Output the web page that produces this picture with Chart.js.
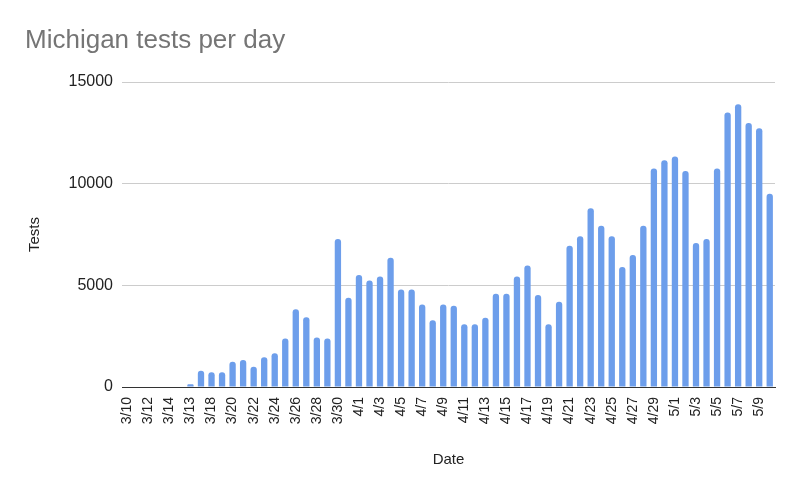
<!DOCTYPE html>
<html>
<head>
<meta charset="utf-8">
<script src="https://cdn.jsdelivr.net/npm/chart.js@4.4.1/dist/chart.umd.min.js"></script>
<style>
  html, body { margin: 0; padding: 0; background: #fff; }
  #wrap { width: 800px; height: 495px; }
</style>
</head>
<body>
<div id="wrap"><canvas id="testsChart" width="800" height="495"></canvas></div>
<script>
// dates as they appear in the sheet (the 7th one really says 3/13)
const dates = [
  "3/10", "3/11", "3/12", "3/13", "3/14", "3/15", "3/13", "3/17", "3/18", "3/19",
  "3/20", "3/21", "3/22", "3/23", "3/24", "3/25", "3/26", "3/27", "3/28", "3/29",
  "3/30", "3/31", "4/1", "4/2", "4/3", "4/4", "4/5", "4/6", "4/7", "4/8",
  "4/9", "4/10", "4/11", "4/12", "4/13", "4/14", "4/15", "4/16", "4/17", "4/18",
  "4/19", "4/20", "4/21", "4/22", "4/23", "4/24", "4/25", "4/26", "4/27", "4/28",
  "4/29", "4/30", "5/1", "5/2", "5/3", "5/4", "5/5", "5/6", "5/7", "5/8",
  "5/9", "5/10"
];

const tests = [
  0, 0, 0, 0, 0, 0, 130, 800, 720, 720,
  1245, 1330, 1000, 1460, 1660, 2380, 3820, 3430, 2440, 2380,
  7280, 4390, 5510, 5240, 5440, 6360, 4790, 4790, 4060, 3280,
  4060, 4000, 3080, 3080, 3410, 4590, 4590, 5440, 5970, 4520,
  3080, 4190, 6950, 7410, 8790, 7930, 7410, 5900, 6490, 7930,
  10750, 11150, 11340, 10620, 7080, 7280, 10750, 13500, 13900, 12980,
  12720, 9500
];

const yTicks = [0, 5000, 10000, 15000];

const barColor = "#6d9eeb";
const fontFamily = "'Liberation Sans', Arial, sans-serif";

const ctx = document.getElementById("testsChart").getContext("2d");
new Chart(ctx, {
  type: "bar",
  data: {
    labels: dates,
    datasets: [{
      label: "Tests",
      data: tests,
      backgroundColor: barColor,
      borderRadius: { topLeft: 3, topRight: 3, bottomLeft: 0, bottomRight: 0 },
      borderSkipped: "start",
      barPercentage: 0.6,
      categoryPercentage: 1
    }]
  },
  options: {
    responsive: false,
    animation: false,
    layout: { padding: { left: 25, right: 25, top: 0, bottom: 26 } },
    plugins: {
      legend: { display: false },
      tooltip: { enabled: false },
      title: {
        display: true,
        text: "Michigan tests per day",
        align: "start",
        color: "#757575",
        font: { family: fontFamily, size: 26, weight: "normal" },
        padding: { top: 25, bottom: 25.8 }
      }
    },
    scales: {
      x: {
        grid: { display: false },
        border: { display: true, color: "#333333", width: 1 },
        ticks: {
          autoSkip: false,
          maxRotation: 90,
          minRotation: 90,
          color: "#222222",
          font: { family: fontFamily, size: 14 },
          padding: 2,
          callback: function (val, i) {
            return i % 2 === 0 ? dates[i] : "";
          }
        },
        title: {
          display: true,
          text: "Date",
          color: "#222222",
          font: { family: fontFamily, size: 15 },
          padding: 0
        },
        afterFit: function (scale) { scale.height = 82; }
      },
      y: {
        min: 0,
        max: 15000,
        border: { display: false },
        grid: {
          color: function (c) { return c.tick && c.tick.value === 0 ? "rgba(0,0,0,0)" : "#cccccc"; },
          drawTicks: false
        },
        afterBuildTicks: function (scale) {
          scale.ticks = yTicks.map(v => ({ value: v }));
        },
        ticks: {
          color: "#222222",
          font: { family: fontFamily, size: 16 },
          padding: 9,
          callback: function (val) { return String(val); }
        },
        title: {
          display: true,
          text: "Tests",
          color: "#222222",
          font: { family: fontFamily, size: 15 },
          padding: { top: 1, bottom: 0 }
        },
        afterFit: function (scale) { scale.width = 97; }
      }
    }
  }
});
</script>
</body>
</html>
